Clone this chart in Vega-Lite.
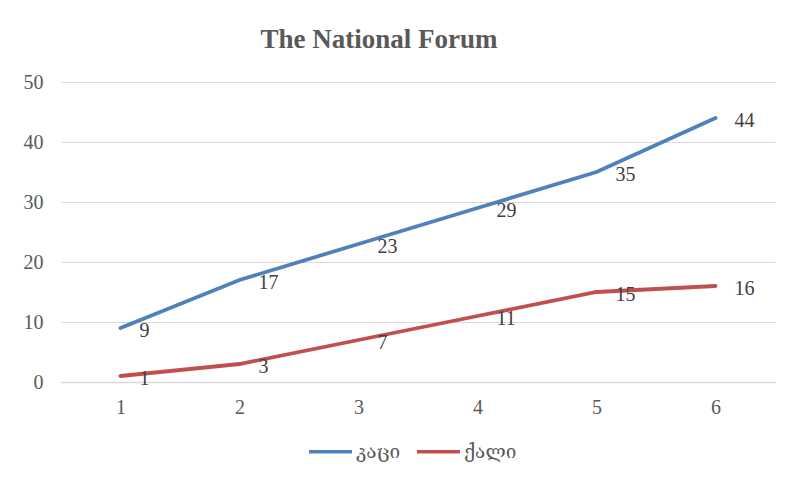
{
  "$schema": "https://vega.github.io/schema/vega-lite/v6.json",
  "width": 714,
  "height": 300,
  "autosize": {"type": "none"},
  "padding": {"left": 61, "top": 82, "right": 21, "bottom": 98},
  "background": "white",
  "title": {
    "text": "The National Forum",
    "font": "Liberation Serif",
    "fontSize": 27,
    "fontWeight": "bold",
    "color": "#595959",
    "anchor": "middle",
    "dx": -39,
    "offset": 18
  },
  "data": {
    "values": [
      {"x": 1, "series": "კაცი", "value": 9},
      {"x": 2, "series": "კაცი", "value": 17},
      {"x": 3, "series": "კაცი", "value": 23},
      {"x": 4, "series": "კაცი", "value": 29},
      {"x": 5, "series": "კაცი", "value": 35},
      {"x": 6, "series": "კაცი", "value": 44},
      {"x": 1, "series": "ქალი", "value": 1},
      {"x": 2, "series": "ქალი", "value": 3},
      {"x": 3, "series": "ქალი", "value": 7},
      {"x": 4, "series": "ქალი", "value": 11},
      {"x": 5, "series": "ქალი", "value": 15},
      {"x": 6, "series": "ქალი", "value": 16}
    ]
  },
  "encoding": {
    "x": {
      "field": "x",
      "type": "ordinal",
      "scale": {"type": "point", "padding": 0.5},
      "axis": {
        "title": null,
        "labelAngle": 0,
        "labelFont": "Liberation Serif",
        "labelFontSize": 20,
        "labelColor": "#595959",
        "labelPadding": 15,
        "ticks": false,
        "domainColor": "#d9d9d9",
        "domainWidth": 1.5,
        "grid": false
      }
    },
    "y": {
      "field": "value",
      "type": "quantitative",
      "scale": {"domain": [0, 50]},
      "axis": {
        "title": null,
        "values": [0, 10, 20, 30, 40, 50],
        "labelFont": "Liberation Serif",
        "labelFontSize": 20,
        "labelColor": "#595959",
        "labelPadding": 18,
        "ticks": false,
        "domain": false,
        "gridColor": "#d9d9d9",
        "gridWidth": 1.2
      }
    },
    "color": {
      "field": "series",
      "type": "nominal",
      "scale": {"domain": ["კაცი", "ქალი"], "range": ["#4f81bd", "#c0504d"]},
      "legend": {
        "title": null,
        "orient": "none",
        "legendX": 246,
        "legendY": 346,
        "direction": "horizontal",
        "symbolType": "stroke",
        "symbolSize": 1850,
        "symbolStrokeWidth": 3.5,
        "labelFont": "DejaVu Serif",
        "labelFontSize": 19,
        "labelColor": "#595959",
        "labelOffset": 2,
        "columnPadding": 8
      }
    }
  },
  "layer": [
    {
      "mark": {"type": "line", "strokeWidth": 3.8, "strokeCap": "round"}
    },
    {
      "mark": {
        "type": "text",
        "align": "left",
        "baseline": "middle",
        "dx": 19,
        "dy": 3,
        "font": "Liberation Serif",
        "fontSize": 20,
        "color": "#404040"
      },
      "encoding": {
        "text": {"field": "value", "type": "quantitative"},
        "color": {"value": "#404040"}
      }
    }
  ],
  "config": {"view": {"stroke": null}}
}
